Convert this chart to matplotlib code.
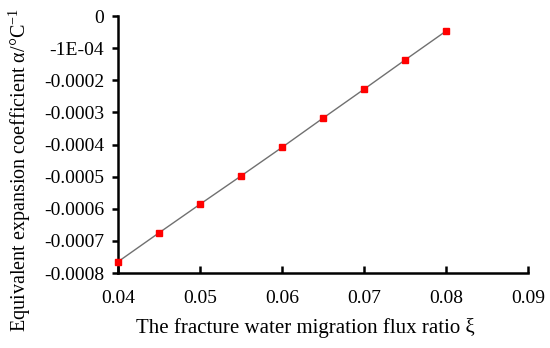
import matplotlib
matplotlib.use("Agg")
import matplotlib.pyplot as plt

plt.rcParams['font.family'] = ['Liberation Serif', 'DejaVu Serif']
plt.rcParams['mathtext.fontset'] = 'custom'
plt.rcParams['mathtext.rm'] = 'Liberation Serif'

# data
xi = [0.04, 0.045, 0.05, 0.055, 0.06, 0.065, 0.07, 0.075, 0.08]
alpha = [-0.000765, -0.000675, -0.000586, -0.000498, -0.000409,
         -0.000318, -0.000228, -0.000137, -0.000047]

xticks = [0.04, 0.05, 0.06, 0.07, 0.08, 0.09]
xlabels = ['0.04', '0.05', '0.06', '0.07', '0.08', '0.09']
yticks = [0, -0.0001, -0.0002, -0.0003, -0.0004, -0.0005, -0.0006, -0.0007, -0.0008]
ylabels = ['0', '-1E-04', '-0.0002', '-0.0003', '-0.0004', '-0.0005',
           '-0.0006', '-0.0007', '-0.0008']

fig = plt.figure(figsize=(5.5, 3.48), dpi=100)
ax = fig.add_axes([0.2145, 0.2155, 0.7455, 0.7385])

ax.plot(xi, alpha, color='#707070', lw=1.0, marker='s', ms=5,
        mfc='#ff0000', mec='#ff0000', clip_on=False, zorder=3)

ax.set_xlim(0.04, 0.09)
ax.set_ylim(-0.0008, 0)
ax.set_xticks(xticks)
ax.set_xticklabels(xlabels)
ax.set_yticks(yticks)
ax.set_yticklabels(ylabels)

for s in ['top', 'right']:
    ax.spines[s].set_visible(False)
for s in ['left', 'bottom']:
    ax.spines[s].set_linewidth(1.8)
ax.tick_params(axis='y', direction='out', length=4, width=1.8, labelsize=14, pad=6)
ax.tick_params(axis='x', direction='in', length=5, width=1.8, labelsize=14, pad=12)

fig.text(0.555, 1 - 328 / 348, 'The fracture water migration flux ratio ξ',
         fontsize=15, ha='center', va='center')
fig.text(20 / 550, 1 - 170 / 348, 'Equivalent expansion coefficient α/°C$^{\\mathrm{-1}}$',
         fontsize=14.5, ha='center', va='center', rotation=90)

fig.savefig('out.png', dpi=100)
